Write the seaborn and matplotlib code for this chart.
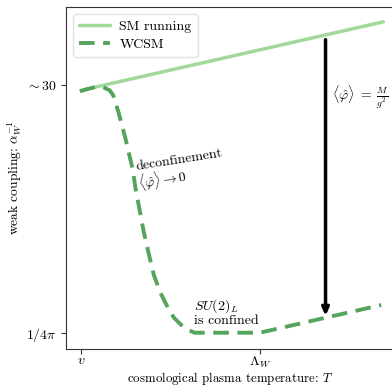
import matplotlib
matplotlib.use("Agg")
import matplotlib.pyplot as plt
import seaborn as sns
import pandas as pd

# data (x: v -> 0, Lambda_W -> 1; y: 1/4pi -> 0, ~30 -> 1)
sm_x = [0.0, 1.69]
sm_y = [0.98, 1.257]
wcsm_x = [-0.006, 0.04, 0.09, 0.124, 0.16, 0.18, 0.209, 0.249, 0.288, 0.305, 0.35, 0.38, 0.407, 0.445, 0.486, 0.52, 0.559, 0.60, 0.633, 1.0, 1.678]
wcsm_y = [0.976, 0.986, 0.995, 0.993, 0.98, 0.96, 0.892, 0.783, 0.663, 0.582, 0.41, 0.315, 0.233, 0.16, 0.10, 0.06, 0.032, 0.012, 0.0, 0.0, 0.112]
x_ticks = [0, 1]
x_ticklabels = [r"$v$", r"$\Lambda_W$"]
y_ticks = [0, 1]
y_ticklabels = [r"$1/4\pi$", r"$\sim 30$"]
arrow_x = 1.367
arrow_from = 1.185
arrow_to = 0.068

sns.set_style("ticks")
plt.rcParams["font.family"] = "serif"
plt.rcParams["font.serif"] = ["cmr10", "DejaVu Serif"]
plt.rcParams["mathtext.fontset"] = "cm"
plt.rcParams["axes.unicode_minus"] = False
plt.rcParams["axes.formatter.use_mathtext"] = True
plt.rcParams["text.color"] = "black"
plt.rcParams["axes.labelcolor"] = "black"
plt.rcParams["xtick.color"] = "black"
plt.rcParams["ytick.color"] = "black"

fig = plt.figure(figsize=(3.92, 3.89), dpi=100)
ax = fig.add_axes([0.168, 0.104, 0.86, 0.878])

sm_df = pd.DataFrame({"x": sm_x, "y": sm_y})
wc_df = pd.DataFrame({"x": wcsm_x, "y": wcsm_y})

sns.lineplot(data=sm_df, x="x", y="y", ax=ax, color="#a3d89b", lw=2.5,
             label="SM running", sort=False)
sns.lineplot(data=wc_df, x="x", y="y", ax=ax, color="#55a45b", lw=2.8,
             dashes=False, linestyle=(0, (4, 2.2)), label="WCSM", sort=False)

ax.annotate("", xy=(arrow_x, arrow_to), xytext=(arrow_x, arrow_from),
            arrowprops=dict(arrowstyle="-|>,head_width=0.2,head_length=0.45",
                            color="black", lw=2.5, shrinkA=0, shrinkB=0))

ax.text(0.316, 0.627, "deconfinement\n" + r"$\langle\hat{\varphi}\rangle\rightarrow 0$",
        rotation=9, rotation_mode="anchor", ha="left", va="center",
        fontsize=10, linespacing=1.0)
ax.text(0.633, 0.085, r"$SU(2)_L$" + "\nis confined", ha="left", va="center",
        fontsize=10, linespacing=1.0)
ax.text(1.405, 0.952, r"$\langle\hat{\varphi}\rangle\;=\;\frac{M}{g^2}$",
        ha="left", va="center", fontsize=10)

ax.set_xlim(-0.085, 1.80)
ax.set_ylim(-0.064, 1.317)
ax.set_xticks(x_ticks)
ax.set_xticklabels(x_ticklabels, fontsize=10)
ax.set_yticks(y_ticks)
ax.set_yticklabels(y_ticklabels, fontsize=10)
ax.set_xlabel(r"cosmological plasma temperature: $T$", fontsize=9.3)
ax.set_ylabel(r"weak coupling: $\alpha_W^{-1}$", fontsize=9.7)
ax.xaxis.set_label_coords(0.488, -0.064)
ax.yaxis.set_label_coords(-0.125, 0.5)
for s in ax.spines.values():
    s.set_color("#333333")
ax.tick_params(color="#333333", length=3.5, pad=3)
ax.tick_params(axis="x", pad=1.2)

leg = ax.legend(loc="upper left", fontsize=10, frameon=True, handlelength=2.2,
                handletextpad=0.7, borderaxespad=0.5, borderpad=0.45,
                labelspacing=0.4)
leg.get_frame().set_edgecolor("#dddddd")

fig.savefig("out.png", dpi=100)
